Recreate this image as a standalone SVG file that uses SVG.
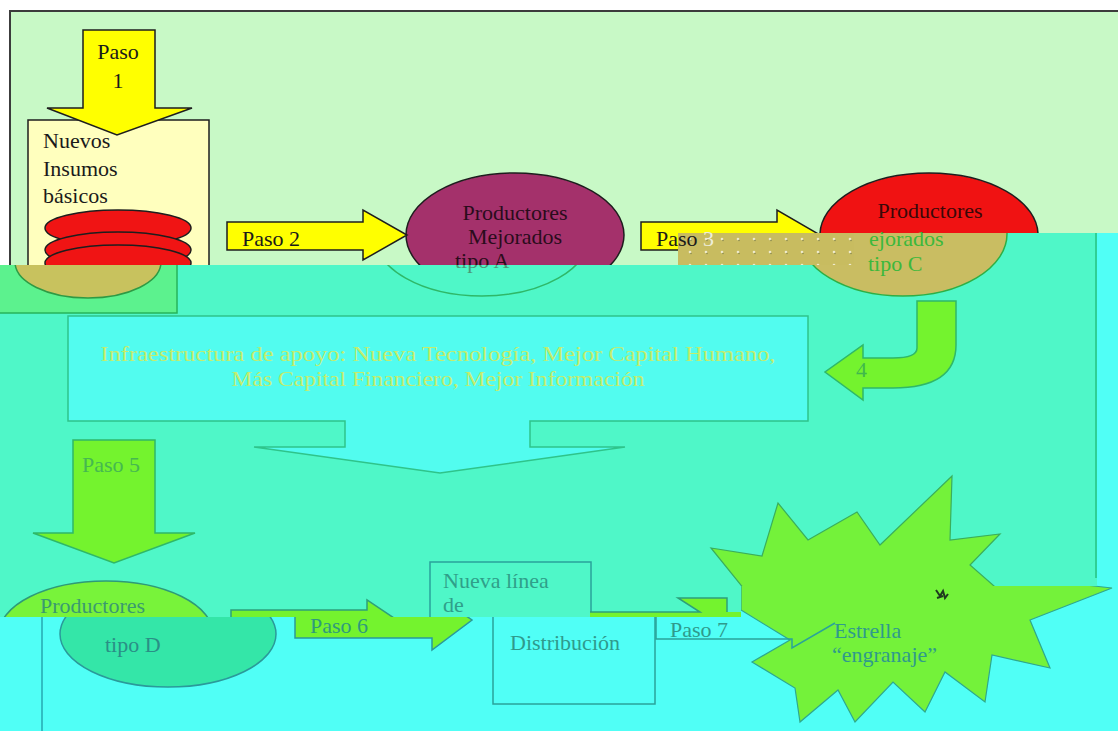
<svg xmlns="http://www.w3.org/2000/svg" width="1118" height="731" viewBox="0 0 1118 731">
<defs>
<style>
.t{font-family:"Liberation Serif","Times New Roman",serif;font-size:22px}
.k{stroke:#1e1e1e;stroke-width:1.5}
.yel{fill:#ffff00}
.lime{fill:#74f32e}
.gl{stroke:#2fb868;stroke-width:1.5}
.tl{stroke:#2aa39a;stroke-width:1.5}
.mid{text-anchor:middle}
</style>
<clipPath id="clipA"><polygon points="0,0 1118,0 1118,233 678,233 678,265 0,265"/></clipPath>
<clipPath id="clipB"><polygon points="0,265 678,265 678,233 1097,233 1097,586 741,586 741,617 0,617"/></clipPath>
<clipPath id="clipC"><polygon points="0,617 741,617 741,586 1097,586 1097,233 1118,233 1118,731 0,731"/></clipPath>
<pattern id="dots" patternUnits="userSpaceOnUse" x="682" y="233" width="16" height="13">
<rect width="16" height="13" fill="#c8bc60"/>
<circle cx="8" cy="6" r="1.3" fill="#eeeacc"/>
<circle cx="9" cy="7.5" r="0.8" fill="#8a8a50"/>
</pattern>
<linearGradient id="tipoA" gradientUnits="userSpaceOnUse" x1="0" y1="255" x2="0" y2="275">
<stop offset="0.5" stop-color="#2a0c1c"/>
<stop offset="0.5" stop-color="#4c9878"/>
</linearGradient>
</defs>

<!-- backdrop: three colour bands and the frame -->
<g id="backdrop">
<rect width="1118" height="731" fill="#ffffff"/>
<rect x="10" y="11" width="1108" height="720" fill="#c8f9c6" clip-path="url(#clipA)"/>
<rect width="1118" height="731" fill="#4ff7c8" clip-path="url(#clipB)"/>
<rect width="1118" height="731" fill="#50fff6" clip-path="url(#clipC)"/>
<path d="M10,265 V11 H1118" fill="none" stroke="#3c3c3c" stroke-width="2"/>
<line x1="1096" y1="233" x2="1096" y2="578" stroke="#25c284" stroke-width="1.5"/>
<line x1="42" y1="617" x2="42" y2="731" stroke="#26a8b0" stroke-width="1.5"/>
</g>

<!-- Nuevos Insumos basicos -->
<g id="insumos">
<g clip-path="url(#clipA)">
<rect x="28" y="120" width="181" height="200" fill="#ffffbe" class="k"/>
<ellipse cx="118" cy="228" rx="73" ry="18" fill="#f01414" class="k"/>
<ellipse cx="118" cy="250" rx="73" ry="18" fill="#f01414" class="k"/>
<ellipse cx="118" cy="263" rx="73" ry="18" fill="#f01414" class="k"/>
</g>
<g clip-path="url(#clipB)">
<rect x="-5" y="100" width="182" height="213" fill="#5cf28e" stroke="#27b45a" stroke-width="1.5"/>
<ellipse cx="88" cy="262" rx="73" ry="36" fill="#c8c25e" stroke="#2f9a44" stroke-width="1.5"/>
</g>
<text class="t" x="43" y="148" fill="#1a1a1a">Nuevos</text>
<text class="t" x="43" y="176" fill="#1a1a1a">Insumos</text>
<text class="t" x="43" y="203" fill="#1a1a1a">básicos</text>
</g>

<!-- Productores Mejorados tipo A -->
<g id="tipo-a">
<ellipse cx="515" cy="235" rx="109" ry="62" fill="#a4316b" class="k" clip-path="url(#clipA)"/>
<ellipse cx="482" cy="235" rx="108" ry="61" fill="#4ff7c8" class="gl" clip-path="url(#clipB)"/>
<text class="t mid" x="515" y="220" fill="#2a0c1c">Productores</text>
<text class="t mid" x="515" y="244" fill="#2a0c1c">Mejorados</text>
<text class="t" x="455" y="268" fill="url(#tipoA)">tipo A</text>
</g>

<!-- Productores Mejorados tipo C -->
<g id="tipo-c">
<ellipse cx="929" cy="235" rx="109" ry="62" fill="#f01212" class="k" clip-path="url(#clipA)"/>
<g clip-path="url(#clipB)">
<ellipse cx="903" cy="234" rx="104" ry="62" fill="#c9bd62" stroke="#2fae44" stroke-width="1.5"/>
<rect x="678" y="233" width="176" height="32" fill="url(#dots)"/>
</g>
<text class="t mid" x="930" y="218" fill="#3a0808">Productores</text>
<text class="t" x="869" y="246" fill="#3cb83c">ejorados</text>
<text class="t" x="868" y="271" fill="#3cb83c">tipo C</text>
</g>

<!-- Infraestructura de apoyo -->
<g id="infraestructura">
<path d="M68,316 H808 V421 H530 V447 H625 L440,473 L254,447 H345 V421 H68 Z" fill="#52fcef" stroke="#2fc48a" stroke-width="1.5"/>
<text class="t mid" x="438" y="361" fill="#c4ec6c" textLength="675" lengthAdjust="spacingAndGlyphs">Infraestructura de apoyo: Nueva Tecnología, Mejor Capital Humano,</text>
<text class="t mid" x="438" y="386" fill="#c4ec6c" textLength="413" lengthAdjust="spacingAndGlyphs">Más Capital Financiero, Mejor Información</text>
</g>

<!-- Productores Mejorados tipo D -->
<g id="tipo-d">
<g clip-path="url(#clipB)">
<ellipse cx="106" cy="634" rx="107" ry="53" fill="#78f33a" stroke="#2e9a78" stroke-width="1.5"/>
<text class="t" x="40" y="613" fill="#3a9a70">Productores</text>
</g>
<ellipse cx="168" cy="634" rx="108" ry="53" fill="#34e6a8" stroke="#2a9a9a" stroke-width="1.5" clip-path="url(#clipC)"/>
<text class="t" x="105" y="652" fill="#2a8f86">tipo D</text>
</g>

<!-- Nueva linea de Distribucion -->
<g id="distribucion">
<g clip-path="url(#clipB)">
<rect x="430" y="562" width="161" height="80" fill="#4ff7c8" class="tl"/>
<text class="t" x="443" y="588" fill="#2f9f8a">Nueva línea</text>
<text class="t" x="443" y="612" fill="#2f9f8a">de</text>
</g>
<rect x="493" y="560" width="162" height="144" fill="#50fff6" class="tl" clip-path="url(#clipC)"/>
<text class="t" x="510" y="650" fill="#2f9a8c">Distribución</text>
</g>

<!-- Estrella engranaje -->
<g id="estrella">
<polygon clip-path="url(#clipB)" points="711,548 762,556 778,503 808,540 857,512 880,545 952,476 950,540 1000,534 970,565 1010,600 960,612 760,612 745,590" fill="#74f23a" stroke="#3aae5c" stroke-width="1.2"/>
<polygon clip-path="url(#clipC)" points="741,580 1040,580 1112,588 1030,620 1050,668 992,655 985,702 945,672 925,712 893,682 855,722 838,690 800,722 795,688 752,662 790,640 741,610" fill="#74f23a" stroke="#2ea88e" stroke-width="1.2"/>
<path d="M936,590 l4,6 l3,-5 l2,7 l3,-4 M937,598 l6,-2" stroke="#1f3a1f" stroke-width="2" fill="none" clip-path="url(#clipC)"/>
<text class="t" x="834" y="638" fill="#2f9a8c">Estrella</text>
<text class="t" x="832" y="662" fill="#2f9a8c">“engranaje”</text>
</g>

<!-- connectors -->
<g id="connectors">
<polygon class="yel k" points="83,30 155,30 155,108 192,108 117,135 47,108 83,108"/>
<text class="t mid" x="118" y="59" fill="#1a1a1a">Paso</text>
<text class="t mid" x="118" y="88" fill="#1a1a1a">1</text>

<polygon class="yel k" points="227,222 363,222 363,210 407,235 363,260 363,250 227,250" clip-path="url(#clipA)"/>
<text class="t" x="242" y="246" fill="#1a1a1a">Paso 2</text>

<polygon class="yel k" points="641,222 777,222 777,210 820,235 777,260 777,250 641,250" clip-path="url(#clipA)"/>
<text class="t" x="656" y="246" fill="#1a1a1a">Paso <tspan fill="#eeeedc">3</tspan></text>

<path d="M917,301 H956 V345 Q956,388 893,388 H863 V400 L825,372 L863,345 V358 H893 Q917,358 917,348 Z" class="lime gl"/>
<text class="t" x="856" y="377" fill="#3fb84c" font-size="20">4</text>

<polygon class="lime gl" points="73,440 155,440 155,533 195,533 114,563 33,533 73,533"/>
<text class="t" x="82" y="472" fill="#45b850">Paso 5</text>

<polygon class="lime" stroke="#2ea07a" stroke-width="1.5" points="231,610 367,610 367,600 400,622 367,645 367,632 231,632" clip-path="url(#clipB)"/>
<polygon class="lime" stroke="#2a9a9a" stroke-width="1.5" points="295,605 432,605 432,592 472,620 432,650 432,638 295,638" clip-path="url(#clipC)"/>
<text class="t" x="310" y="633" fill="#2f9a7c">Paso 6</text>

<g clip-path="url(#clipB)">
<polygon class="lime" points="590,612 700,612 678,598 727,598 727,612 741,612 741,617 590,617"/>
<polyline points="590,612 700,612 678,598 727,598 727,612" fill="none" stroke="#2ea07a" stroke-width="1.5"/>
</g>
<polyline points="656,617 656,639 792,639 792,648 835,623" fill="none" class="tl"/>
<text class="t" x="670" y="637" fill="#2f9a8c">Paso 7</text>
</g>
</svg>
